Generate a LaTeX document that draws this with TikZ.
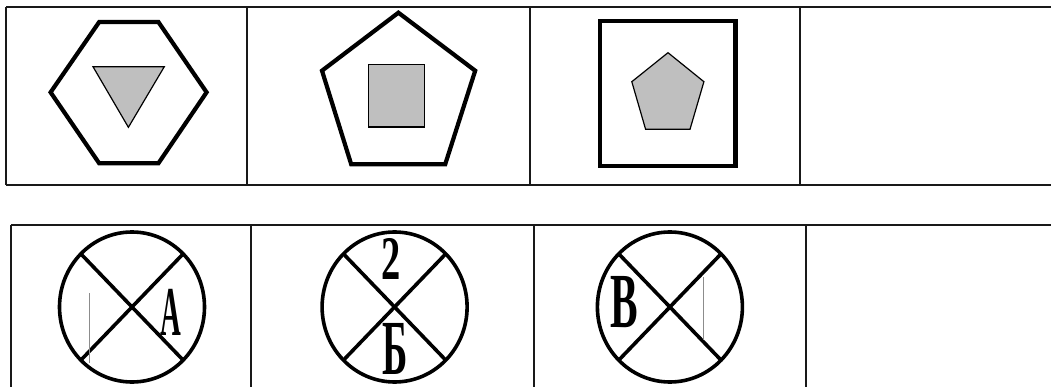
\documentclass[tikz,border=0pt]{standalone}
\usepackage{fontspec}
\setmainfont{Liberation Serif}
\usepackage{graphicx}
\usetikzlibrary{positioning}

% narrow bold letters in the discs
\newcommand{\tallglyph}[3]{\scalebox{#1}[1]{\fontsize{#2}{#2}\selectfont #3}}

\begin{document}
\begin{tikzpicture}[x=1pt, y=-1pt,
    grid/.style={black!90, line width=1.8pt},
    outer/.style={black, line width=4.2pt, line join=miter},
    inner/.style={black, fill=black!25, line width=1.2pt},
    disc/.style={black, line width=3.6pt},
    ghost/.style={black!45, line width=0.6pt},
    letter/.style={inner sep=0pt, font=\bfseries}]

    \useasboundingbox (0,0) rectangle (1051,387);

    % Upper table
    \draw[grid] (6,7) -- (1051,7);
    \draw[grid] (6,185) -- (1051,185);
    \foreach \x in {6, 247, 530, 800}
      \draw[grid] (\x,7) -- (\x,185);

    % Lower table (open at the bottom)
    \draw[grid] (11,225) -- (1051,225);
    \foreach \x in {11, 251, 534, 806}
      \draw[grid] (\x,225) -- (\x,387);

    % Cell 1: hexagon with triangle
    \draw[outer] (50.6,92.3) -- (99.2,22) -- (158.4,22) -- (206.6,92.3) -- (158.4,163.3) -- (99.2,163.3) -- cycle;
    \draw[inner] (93,66.7) -- (164.3,66.7) -- (128.4,127.3) -- cycle;

    % Cell 2: pentagon with square
    \draw[outer] (398.4,12.7) -- (475.2,70.7) -- (445.2,164.3) -- (351.2,164.3) -- (322,70.7) -- cycle;
    \draw[inner] (368.5,64.3) rectangle (424.2,127);

    % Cell 3: square with pentagon
    \draw[outer] (600.3,21.3) rectangle (735.4,165.7);
    \draw[inner] (668,52.7) -- (703.9,81.7) -- (690,129.3) -- (645.6,129.3) -- (631.8,81.7) -- cycle;

    % Crossed discs
    \foreach \cx in {132, 394.6, 669.9} {
      \draw[disc] (\cx,307) ellipse [x radius=72.5, y radius=75];
      \draw[disc] (\cx-51,254) -- (\cx+51,360);
      \draw[disc] (\cx+51,254) -- (\cx-51,360);
    }

    % faint scan lines
    \draw[ghost] (89.5,293) -- (89.5,363);
    \draw[ghost] (703.2,277) -- (703.2,340);

    % Letters
    \node[letter] (lettA) at (170.5,312) {\tallglyph{0.41}{70}{А}};
    \node[letter] (digit2) at (391,259) {\tallglyph{0.62}{62}{2}};
    \node[letter] (lettB) at (395,349) {\tallglyph{0.49}{78}{Б}};
    \node[letter] (lettV) at (624,302.5) {\tallglyph{0.53}{78}{В}};
\end{tikzpicture}
\end{document}
